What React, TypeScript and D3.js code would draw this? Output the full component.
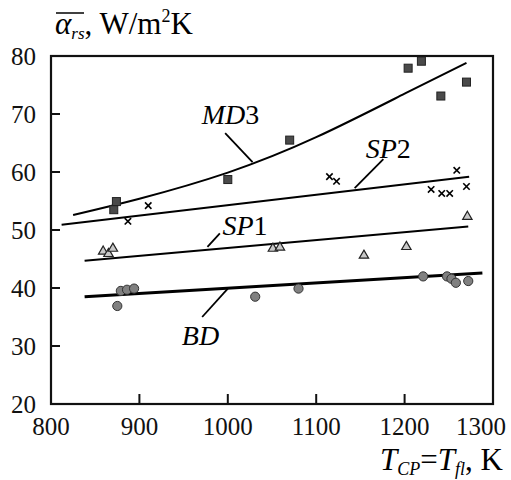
import React from "react";
import * as d3 from "d3";

const W = 511;
const H = 480;

const xTicks = [800, 900, 1000, 1100, 1200, 1300];
const yTicks = [20, 30, 40, 50, 60, 70, 80];

// fitted curves
const md3Curve: [number, number][] = [
  [825, 52.6], [900, 55.4], [1000, 59.9], [1100, 66.0], [1200, 73.5], [1270, 78.8],
];
const sp2Curve: [number, number][] = [[812, 50.9], [1273, 59.2]];
const sp1Curve: [number, number][] = [[838, 44.7], [1272, 50.6]];
const bdCurve: [number, number][] = [[838, 38.5], [1288, 42.6]];

// measured points
const md3Pts: [number, number][] = [
  [874, 54.9], [871, 53.5], [1000, 58.7], [1070, 65.5],
  [1204, 77.9], [1219, 79.1], [1241, 73.1], [1270, 75.5],
];
const sp2Pts: [number, number][] = [
  [910, 54.2], [887, 51.5], [1115, 59.2], [1123, 58.4], [1230, 57.0],
  [1242, 56.3], [1251, 56.3], [1259, 60.3], [1270, 57.5],
];
const sp1Pts: [number, number][] = [
  [859, 46.3], [865, 45.9], [870, 46.8], [1051, 46.8], [1059, 47.0],
  [1154, 45.6], [1202, 47.1], [1271, 52.3],
];
const bdPts: [number, number][] = [
  [875, 36.9], [879, 39.5], [886, 39.7], [894, 39.9], [1031, 38.5],
  [1080, 39.9], [1221, 42.0], [1248, 42.0], [1253, 41.6], [1258, 40.9], [1272, 41.2],
];

// annotation leaders [x1,y1,x2,y2] in data units
const leaders: [number, number, number, number][] = [
  [997, 66.7, 1028, 61.7],
  [1176, 62.2, 1143.5, 57.2],
  [991, 49.4, 977, 47.1],
  [1000, 39.9, 971, 35.0],
];

const serif = "'Liberation Serif', 'Times New Roman', serif";

export default function App() {
  const x = d3.scaleLinear().domain([800, 1300]).range([51, 493]);
  const y = d3.scaleLinear().domain([20, 80]).range([404, 56]);

  const line = d3.line<[number, number]>().x((d) => x(d[0])).y((d) => y(d[1]));
  const curve = d3
    .line<[number, number]>()
    .x((d) => x(d[0]))
    .y((d) => y(d[1]))
    .curve(d3.curveNatural);

  const tri = d3.symbol().type(d3.symbolTriangle).size(38)() as string;

  return (
    <svg
      width={W}
      height={H}
      style={{ position: "absolute", left: 0, top: 0, background: "#fff", fontFamily: serif }}
    >
      <rect x={0} y={0} width={W} height={H} fill="#fff" />
      {/* frame */}
      <rect
        x={x(800)}
        y={y(80)}
        width={x(1300) - x(800)}
        height={y(20) - y(80)}
        fill="none"
        stroke="#111"
        strokeWidth={2.2}
      />
      {/* ticks */}
      {yTicks.slice(1, -1).map((t) => (
        <line key={"yt" + t} x1={x(800)} x2={x(800) + 9} y1={y(t)} y2={y(t)} stroke="#111" strokeWidth={2} />
      ))}
      {xTicks.slice(1, -1).map((t) => (
        <line key={"xt" + t} x1={x(t)} x2={x(t)} y1={y(20)} y2={y(20) - 10} stroke="#111" strokeWidth={2} />
      ))}
      {yTicks.map((t) => (
        <text key={"yl" + t} x={36} y={y(t) + 9} textAnchor="end" fontSize={25} fill="#111">
          {t}
        </text>
      ))}
      {xTicks.map((t, i) => {
        const last = i === xTicks.length - 1;
        return (
          <text
            key={"xl" + t}
            x={last ? 506 : x(t)}
            y={435}
            textAnchor={last ? "end" : "middle"}
            fontSize={25}
            fill="#111"
          >
            {t}
          </text>
        );
      })}

      {/* fitted lines */}
      <path d={curve(md3Curve) as string} fill="none" stroke="#000" strokeWidth={2} />
      <path d={line(sp2Curve) as string} fill="none" stroke="#000" strokeWidth={2} />
      <path d={line(sp1Curve) as string} fill="none" stroke="#000" strokeWidth={2} />
      <path d={line(bdCurve) as string} fill="none" stroke="#000" strokeWidth={3} />

      {leaders.map((l, i) => (
        <line key={"ld" + i} x1={x(l[0])} y1={y(l[1])} x2={x(l[2])} y2={y(l[3])} stroke="#000" strokeWidth={1.8} />
      ))}

      {/* points */}
      {md3Pts.map((p, i) => (
        <rect key={"sq" + i} x={x(p[0]) - 4} y={y(p[1]) - 4} width={8} height={8} fill="#4a4a4a" stroke="#222" strokeWidth={1} />
      ))}
      {sp2Pts.map((p, i) => {
        const cx = x(p[0]);
        const cy = y(p[1]);
        const s = 3.2;
        return (
          <g key={"cr" + i} stroke="#000" strokeWidth={1.6}>
            <line x1={cx - s} y1={cy - s} x2={cx + s} y2={cy + s} />
            <line x1={cx - s} y1={cy + s} x2={cx + s} y2={cy - s} />
          </g>
        );
      })}
      {sp1Pts.map((p, i) => (
        <path key={"tr" + i} d={tri} transform={`translate(${x(p[0])},${y(p[1])})`} fill="#c8c8c8" stroke="#222" strokeWidth={1.2} />
      ))}
      {bdPts.map((p, i) => (
        <circle key={"ci" + i} cx={x(p[0])} cy={y(p[1])} r={4.6} fill="#808080" stroke="#333" strokeWidth={1} />
      ))}

      {/* curve labels */}
      <text x={x(970.6)} y={y(68.3)} fontSize={28} fill="#000">
        <tspan fontStyle="italic">MD</tspan>3
      </text>
      <text x={x(1156)} y={y(62.5)} fontSize={28} fill="#000">
        <tspan fontStyle="italic">SP</tspan>2
      </text>
      <text x={x(994)} y={y(49.2)} fontSize={28} fill="#000">
        <tspan fontStyle="italic">SP</tspan>1
      </text>
      <text x={x(948)} y={y(30.2)} fontSize={28} fill="#000">
        <tspan fontStyle="italic">BD</tspan>
      </text>

      {/* y title */}
      <line x1={56} x2={84} y1={13} y2={13} stroke="#000" strokeWidth={1.5} />
      <text x={55} y={34} fontSize={31} fill="#000">
        <tspan fontStyle="italic">α</tspan>
        <tspan fontStyle="italic" fontSize={17} dy={5}>rs</tspan>
        <tspan dy={-5}>, W/m</tspan>
        <tspan fontSize={18} dy={-12}>2</tspan>
        <tspan dy={12}>K</tspan>
      </text>

      {/* x title */}
      <text x={503} y={470} fontSize={31} fill="#000" textAnchor="end">
        <tspan fontStyle="italic">T</tspan>
        <tspan fontStyle="italic" fontSize={18} dy={5}>CP</tspan>
        <tspan dy={-5}>=</tspan>
        <tspan fontStyle="italic">T</tspan>
        <tspan fontStyle="italic" fontSize={18} dy={5}>fl</tspan>
        <tspan dy={-5}>, K</tspan>
      </text>
    </svg>
  );
}
